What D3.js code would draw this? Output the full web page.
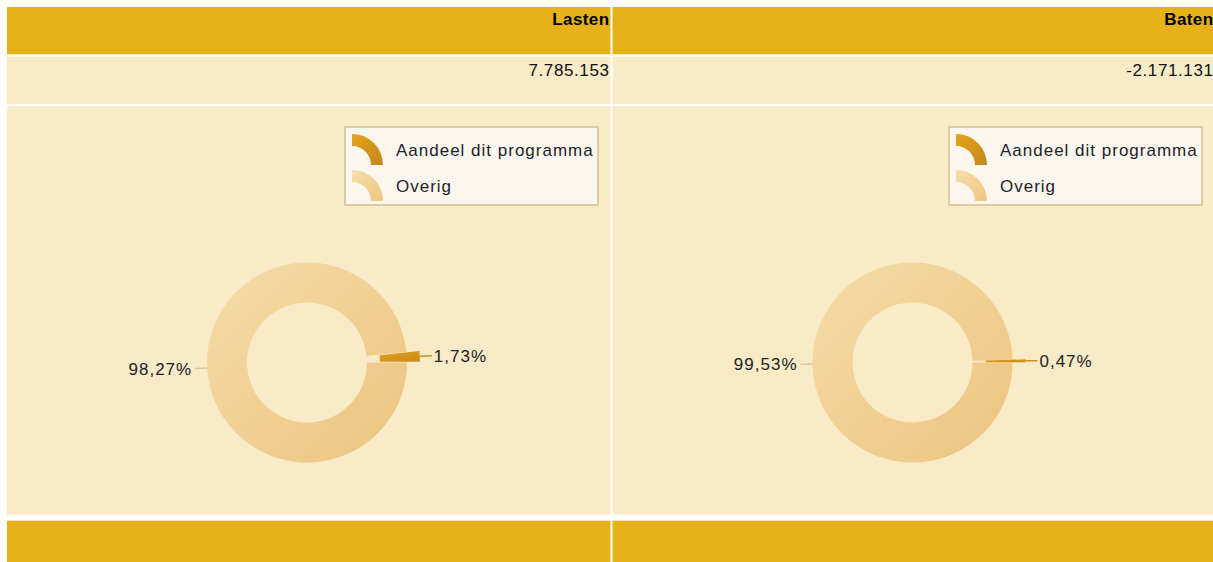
<!DOCTYPE html>
<html>
<head>
<meta charset="utf-8">
<script src="https://cdn.jsdelivr.net/npm/d3@7"></script>
<style>
  html, body { margin: 0; padding: 0; background: #fff; }
  svg { display: block; font-family: Arial, "Liberation Sans", sans-serif; }
</style>
</head>
<body>
<script>
// table columns and their totals
const columns = ["Lasten", "Baten"];
const totals = ["7.785.153", "-2.171.131"];

// donut slices, in percent
const categories = ["Overig", "Aandeel dit programma"];
const overig = [98.27, 99.53];
const aandeel = [1.73, 0.47];

const legendItems = ["Aandeel dit programma", "Overig"];

const width = 1213;
const height = 562;

const nl = d3.formatLocale({decimal: ",", thousands: ".", grouping: [3], currency: ["€", ""]});
const pct = v => nl.format(".2f")(v) + "%";

const colX = [7, 612.5];
const colW = [603.5, 602];

const svg = d3.select("body").append("svg")
  .attr("width", width)
  .attr("height", height);

const defs = svg.append("defs");
function grad(id, c1, c2) {
  const g = defs.append("linearGradient").attr("id", id)
    .attr("x1", "0%").attr("y1", "0%").attr("x2", "100%").attr("y2", "100%");
  g.append("stop").attr("offset", "0%").attr("stop-color", c1);
  g.append("stop").attr("offset", "100%").attr("stop-color", c2);
}
grad("gOverig", "#f5dcaa", "#ecc47d");
grad("gAandeel", "#dea01f", "#c98b1b");
grad("lOverig", "#f6deac", "#efc67f");
grad("lAandeel", "#e4a31d", "#c4871d");
const fills = {"Overig": "url(#gOverig)", "Aandeel dit programma": "url(#gAandeel)"};
const legendFills = {"Overig": "url(#lOverig)", "Aandeel dit programma": "url(#lAandeel)"};

const cols = svg.selectAll("g.col")
  .data(columns)
  .enter()
  .append("g")
  .attr("class", "col")
  .attr("transform", (d, i) => `translate(${colX[i]},0)`);

// header row
cols.append("rect").attr("y", 7).attr("width", (d, i) => colW[i]).attr("height", 47.3).attr("fill", "#e6b219");
cols.append("text")
  .attr("x", (d, i) => colW[i] - 1)
  .attr("y", 25)
  .attr("text-anchor", "end")
  .style("font-size", "17px")
  .style("font-weight", "bold")
  .style("letter-spacing", "0.4px")
  .attr("fill", "#000")
  .text(d => d);

// totals row
cols.append("rect").attr("y", 56.7).attr("width", (d, i) => colW[i]).attr("height", 47.6).attr("fill", "#f9eac8");
cols.append("text")
  .attr("x", (d, i) => colW[i] - 1)
  .attr("y", 76)
  .attr("text-anchor", "end")
  .style("font-size", "17px")
  .style("letter-spacing", "0.6px")
  .attr("fill", "#111")
  .text((d, i) => totals[i]);

// chart row
cols.append("rect").attr("y", 106).attr("width", (d, i) => colW[i]).attr("height", 408.7).attr("fill", "#f9eac8");

// footer row
cols.append("rect").attr("y", 520.7).attr("width", (d, i) => colW[i]).attr("height", 45).attr("fill", "#e6b219");

// legend
cols.each(function(d, i) {
  const g = d3.select(this);
  const lg = g.append("g").attr("transform", `translate(${colW[i] - 266.5},126)`);
  lg.append("rect")
    .attr("x", 1).attr("y", 1)
    .attr("width", 253).attr("height", 78)
    .attr("fill", "#fbf6ee")
    .attr("stroke", "#dccca4")
    .attr("stroke-width", 2);
  const iconArc = d3.arc().innerRadius(19).outerRadius(31).startAngle(0).endAngle(Math.PI / 2);
  const rows = lg.selectAll("g.item").data(legendItems).enter().append("g")
    .attr("class", "item")
    .attr("transform", (d, k) => `translate(0,${k * 36})`);
  rows.append("path")
    .attr("transform", "translate(8,39)")
    .attr("d", iconArc())
    .attr("fill", d => legendFills[d]);
  rows.append("text")
    .attr("x", 52)
    .attr("y", 30)
    .style("font-size", "17px")
    .style("letter-spacing", "1px")
    .attr("fill", "#1e1e2a")
    .text(d => d);
});

// donuts
const pie = d3.pie().sort(null).value(d => d.value)
  .startAngle(Math.PI / 2).endAngle(Math.PI / 2 + 2 * Math.PI);
const rInner = 60, rOuter = 100, explode = 13;
const arc = d3.arc().innerRadius(rInner).outerRadius(rOuter);

cols.each(function(d, i) {
  const g = d3.select(this).append("g").attr("transform", "translate(300,362.5)");
  const values = [
    {key: categories[0], value: overig[i]},
    {key: categories[1], value: aandeel[i]}
  ];
  const slices = pie(values);
  const off = s => (s.data.key === "Overig" ? 0 : explode);
  const mid = s => (s.startAngle + s.endAngle) / 2;

  g.selectAll("path.slice").data(slices).enter().append("path")
    .attr("class", "slice")
    .attr("transform", s => `translate(${Math.sin(mid(s)) * off(s)},${-Math.cos(mid(s)) * off(s)})`)
    .attr("d", arc)
    .attr("fill", s => fills[s.data.key]);

  // leader lines and labels
  slices.forEach(s => {
    const a = mid(s);
    const r0 = rOuter + off(s);
    const r1 = r0 + 12;
    const x0 = Math.sin(a) * r0, y0 = -Math.cos(a) * r0;
    const x1 = Math.sin(a) * r1, y1 = -Math.cos(a) * r1;
    const right = x1 > 0;
    g.append("line")
      .attr("x1", x0).attr("y1", y0).attr("x2", x1).attr("y2", y1)
      .attr("stroke", s.data.key === "Overig" ? "#dcc69c" : "#c98f1c")
      .attr("stroke-width", 1.5);
    g.append("text")
      .attr("x", right ? x1 + 2 : x1 - 3)
      .attr("y", y1)
      .attr("dy", "0.35em")
      .attr("text-anchor", right ? "start" : "end")
      .style("font-size", "17px")
      .style("letter-spacing", "1px")
      .attr("fill", "#222")
      .text(pct(s.data.value));
  });
});
</script>
</body>
</html>
